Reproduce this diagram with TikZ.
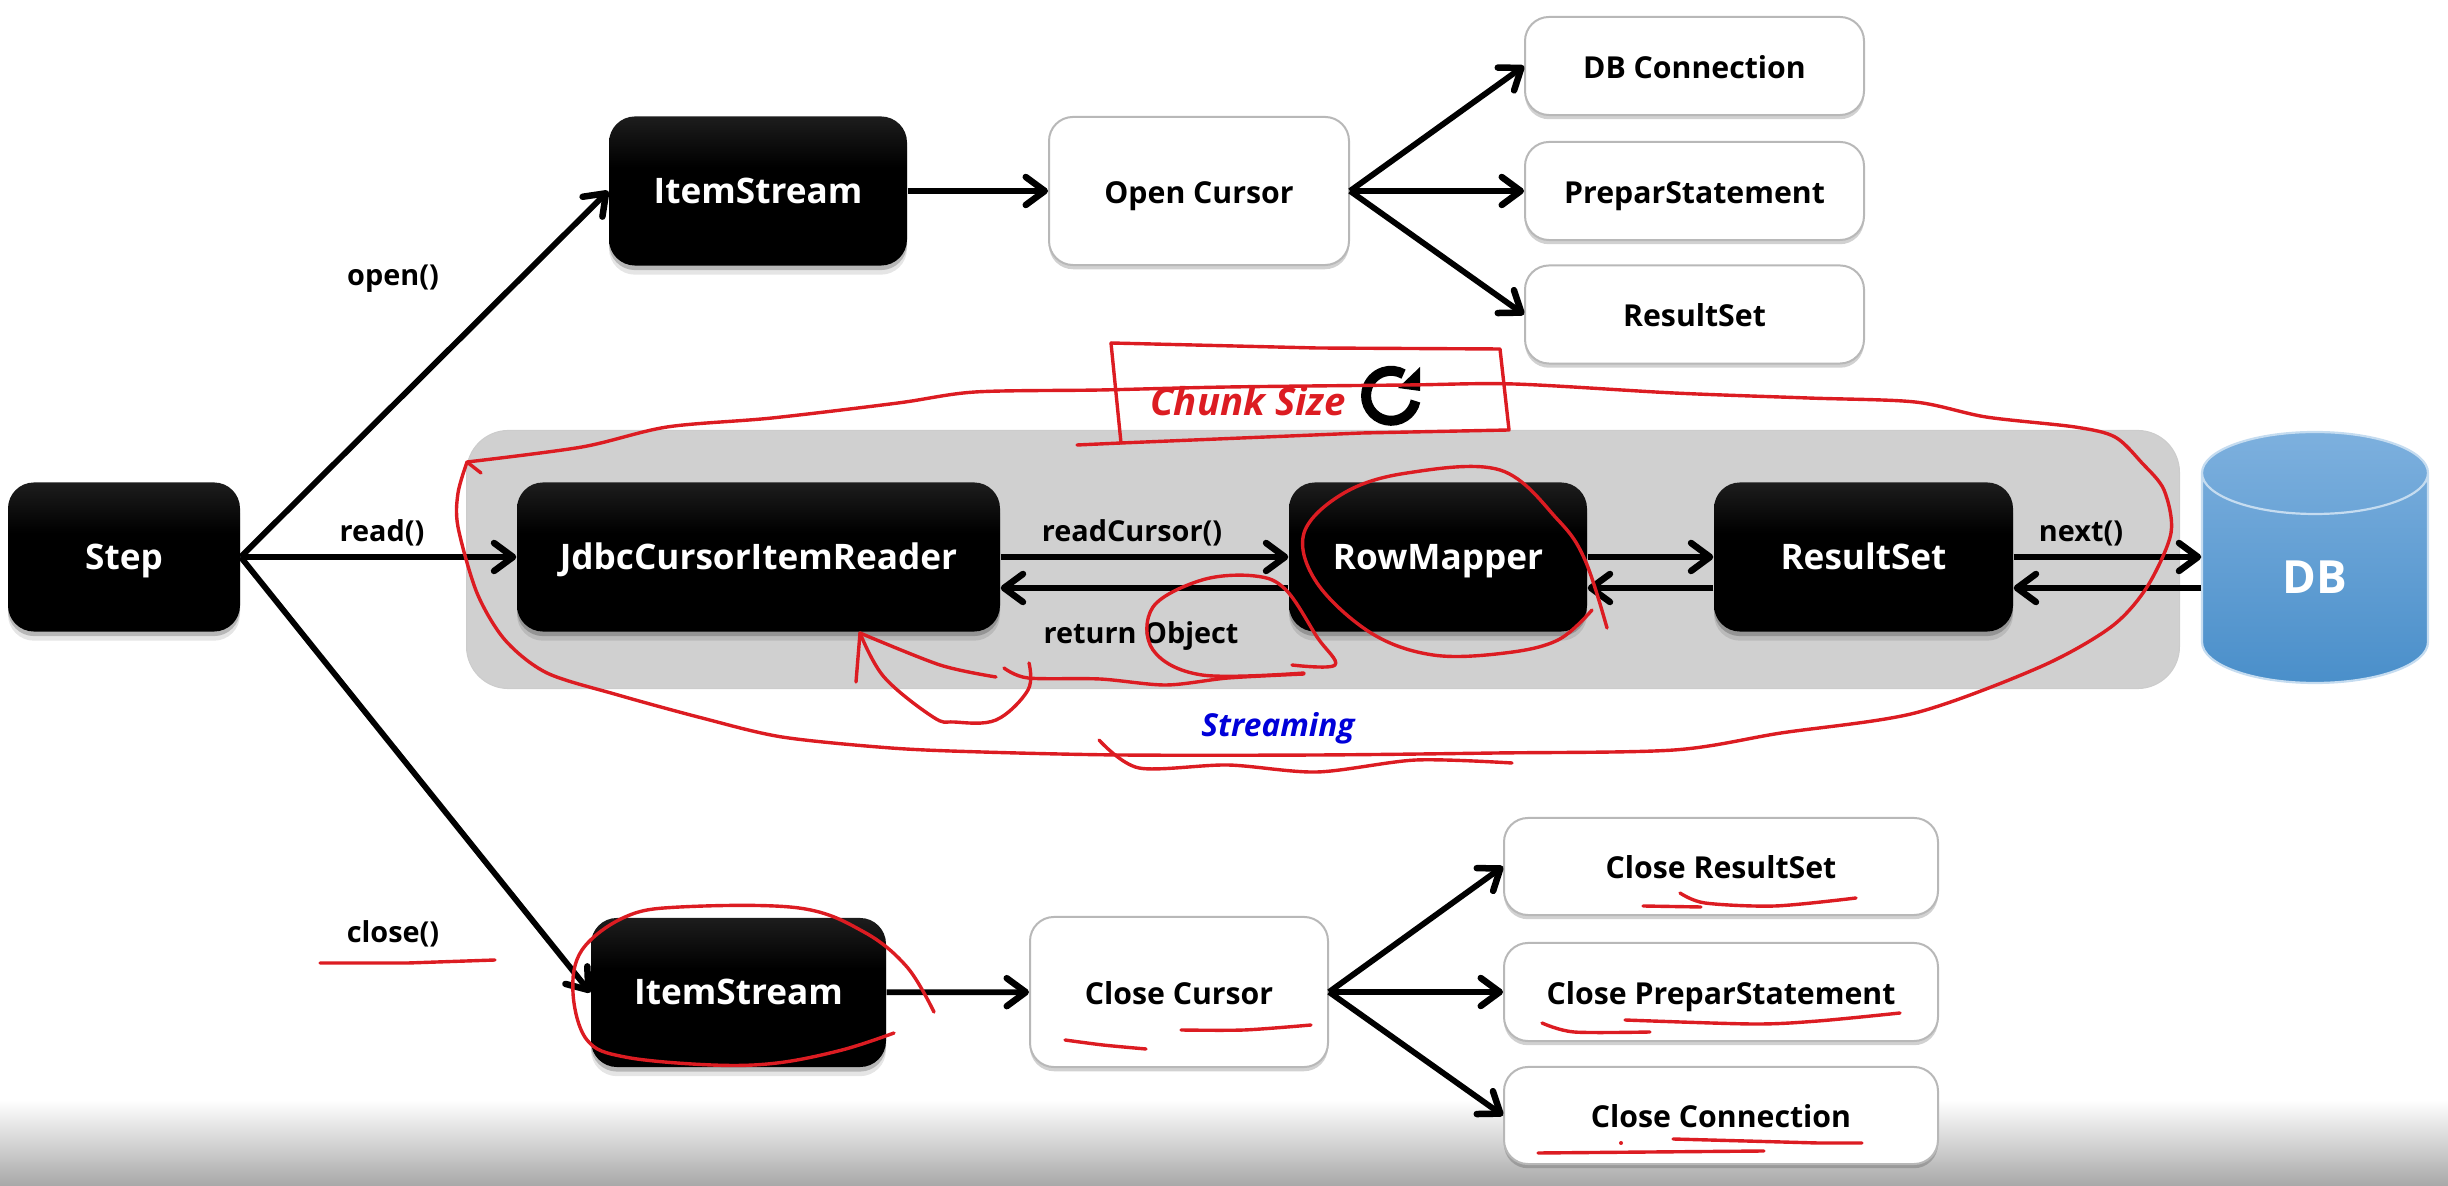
\documentclass[tikz,border=0pt]{standalone}
\usepackage{fontspec}
\setmainfont{Open Sans}
\usetikzlibrary{arrows.meta,calc,shadows}
\definecolor{panelgray}{HTML}{D0D0D0}
\definecolor{penred}{HTML}{DC1C22}
\definecolor{dbtop}{HTML}{7DB0DE}
\definecolor{dbbottom}{HTML}{4A8FCA}
\pgfdeclareverticalshading{darkfade}{100bp}{color(0bp)=(black); color(58bp)=(black); color(100bp)=(black!72)}
\tikzset{
    darkbox/.style={rectangle, rounded corners=0.26cm, minimum width=#1*0.01cm, minimum height=1.49cm,
        shading=darkfade, text=white, font=\fontsize{10}{12}\selectfont\bfseries, text height=0.71em, text depth=0pt,
        drop shadow={shadow xshift=0pt, shadow yshift=-2.6pt, opacity=0.10, fill=black},
        drop shadow={shadow xshift=0pt, shadow yshift=-1.3pt, opacity=0.20, fill=black}},
    lightbox/.style={rectangle, rounded corners=0.24cm, minimum width=#1*0.01cm, draw=black!28, line width=0.02cm, fill=white,
        text=black, font=\fontsize{8.6}{10}\selectfont\bfseries, text height=0.71em, text depth=0pt,
        drop shadow={shadow xshift=0pt, shadow yshift=-1.2pt, opacity=0.18, fill=black}},
    callname/.style={font=\fontsize{8.2}{10}\selectfont\bfseries, text=black},
    bolt/.style={-{Straight Barb[length=0.19cm, width=0.28cm, line width=0.065cm, round]}, line width=0.058cm, black},
    pen/.style={draw=penred, line width=0.034cm, line cap=round, line join=round},
}
\begin{document}
\begin{tikzpicture}[x=0.01cm, y=-0.01cm]
    \useasboundingbox (0,0) rectangle (2448,1186);

    % Grey strip at the bottom edge
    \shade[top color=white, bottom color=black!34] (0,1100) rectangle (2448,1186);

    % Streaming panel
    \node[rectangle, rounded corners=0.42cm, fill=panelgray, draw=black!20, line width=0.01cm, minimum width=17.12cm, minimum height=2.58cm] (panel) at (1323,559.5) {};

    % Left node
    \node[darkbox=232] (step) at (124,557) {Step};

    % Open row
    \node[darkbox=298] (openstream) at (758,191) {ItemStream};
    \node[lightbox=300, minimum height=1.48cm] (opencursor) at (1199,191) {Open Cursor};
    \node[lightbox=339, minimum height=0.98cm] (dbconn) at (1694.5,66) {DB Connection};
    \node[lightbox=339, minimum height=0.98cm] (prepare) at (1694.5,191) {PreparStatement};
    \node[lightbox=339, minimum height=0.98cm] (resultopen) at (1694.5,314.5) {ResultSet};

    % Read row
    \node[darkbox=483] (reader) at (758.5,557) {JdbcCursorItemReader};
    \node[darkbox=298] (mapper) at (1438,557) {RowMapper};
    \node[darkbox=299] (resultread) at (1863.5,557) {ResultSet};

    % Database
    \fill[top color=dbtop, bottom color=dbbottom] (2202,473) arc[start angle=180, end angle=360, x radius=113, y radius=41]
        -- (2428,642) arc[start angle=0, end angle=180, x radius=113, y radius=41] -- cycle;
    \draw[white!55!dbtop, line width=0.022cm] (2202,473) arc[start angle=180, end angle=0, x radius=113, y radius=41]
        (2202,473) arc[start angle=180, end angle=360, x radius=113, y radius=41] -- (2428,642)
        arc[start angle=0, end angle=180, x radius=113, y radius=41] -- cycle;
    \node[minimum width=2.26cm, minimum height=2.10cm, text=white, font=\fontsize{13}{16}\selectfont\bfseries, text height=0.33cm, text depth=0pt] (db) at (2315,577) {DB};

    % Close row
    \node[darkbox=295] (closestream) at (738.5,992.5) {ItemStream};
    \node[lightbox=298, minimum height=1.50cm] (closecursor) at (1179,992) {Close Cursor};
    \node[lightbox=434, minimum height=0.97cm] (closeresult) at (1721,866.5) {Close ResultSet};
    \node[lightbox=434, minimum height=0.98cm] (closeprepare) at (1721,992) {Close PreparStatement};
    \node[lightbox=434, minimum height=0.97cm] (closeconn) at (1721,1115.5) {Close Connection};

    % Connect step to the three rows
    \foreach \j in {openstream,reader,closestream} {
        \draw[bolt] (step.east) -- (\j.west);
    }

    % Connect cursor nodes to their boxes
    \draw[bolt] (openstream) -- (opencursor);
    \foreach \j in {dbconn,prepare,resultopen} {
        \draw[bolt] (opencursor.east) -- (\j.west);
    }
    \draw[bolt] (closestream) -- (closecursor);
    \foreach \j in {closeresult,closeprepare,closeconn} {
        \draw[bolt] (closecursor.east) -- (\j.west);
    }

    % Read row, forward and back
    \draw[bolt] (reader) -- (mapper);
    \draw[bolt] (mapper) -- (resultread);
    \draw[bolt] (resultread.east) -- (resultread.east -| db.west);
    \draw[bolt] ($(mapper.west)+(0,31)$) -- ($(reader.east)+(0,31)$);
    \draw[bolt] ($(resultread.west)+(0,31)$) -- ($(mapper.east)+(0,31)$);
    \draw[bolt] ($(resultread.east -| db.west)+(0,31)$) -- ($(resultread.east)+(0,31)$);

    % Labels
    \node[callname] (openlabel) at (393,279) {open()};
    \node[callname] (readlabel) at (382,533) {read()};
    \node[callname] (closelabel) at (393,934) {close()};
    \node[callname] (cursorlabel) at (1132,533) {readCursor()};
    \node[callname] (objectlabel) at (1141,636) {return Object};
    \node[callname] (nextlabel) at (2081,533) {next()};
    \node[font=\fontsize{10.9}{12}\selectfont\bfseries\itshape, text=penred] (chunklabel) at (1248,401) {Chunk Size};
    \node[font=\fontsize{9}{10}\selectfont\bfseries\itshape, text=blue!85!black] (streamlabel) at (1278,728) {Streaming};

    % Repeat sign
    \draw[black, line width=0.10cm] (1415.5,401) arc[start angle=12, end angle=300, radius=25];
    \fill[black] (1420,367) -- (1420,391) -- (1398,388) -- cycle;

    % Red pen marks
    \draw[pen] plot[smooth, tension=0.5] coordinates {(467,462) (582,447) (667,427) (772,418) (898,403) (975,392) (1100,390) (1228,387) (1407,385) (1514,384) (1674,393) (1808,398) (1915,402) (1986,417) (2075,427) (2115,437) (2142,463) (2164,490) (2171,533) (2147,587) (2111,627) (2040,667) (1915,713) (1781,733) (1674,750) (1496,753) (1317,755) (1121,755) (982,752) (891,748) (782,737) (702,718) (618,695) (547,673) (505,640) (477,593) (458,527) (458,493) (467,462)};
    \draw[pen] (467,462) -- (481,473);
    \draw[pen] (1111,343) -- (1317,348) -- (1500,349) -- (1509,430) -- (1362,433) -- (1121,443) -- (1077,445);
    \draw[pen] (1111,343) -- (1121,443);
    \draw[pen] plot[smooth, tension=0.6] coordinates {(1607,628) (1585,560) (1558,520) (1500,470) (1407,473) (1344,493) (1304,533) (1317,583) (1371,633) (1433,655) (1505,653) (1558,640) (1592,610)};
    \draw[pen] plot[smooth, tension=0.6] coordinates {(1304,673) (1202,675) (1153,650) (1153,607) (1202,580) (1255,576) (1286,590) (1317,637) (1335,665) (1292,665)};
    \draw[pen] plot[smooth, tension=0.5] coordinates {(1004,668) (1028,678) (1100,679) (1166,685) (1228,678) (1304,674)};
    \draw[pen] plot[smooth, tension=0.5] coordinates {(996,677) (940,665) (860,633)};
    \draw[pen] plot[smooth, tension=0.6] coordinates {(860,633) (884,677) (933,717) (954,722) (996,720) (1028,690) (1029,663)};
    \draw[pen] (860,633) -- (856,682);
    \draw[pen] plot[smooth, tension=0.5] coordinates {(1099,740) (1139,768) (1228,765) (1317,772) (1416,760) (1512,763)};
    \draw[pen] (320,963) -- (408,963) -- (495,960);
    \draw[pen] plot[smooth, tension=0.6] coordinates {(934,1012) (907,967) (864,932) (799,908) (680,907) (625,917) (582,950) (573,993) (587,1040) (625,1057) (712,1065) (777,1063) (842,1050) (894,1033)};
    \draw[pen] plot[smooth] coordinates {(1065,1040) (1103,1045) (1146,1049)};
    \draw[pen] plot[smooth] coordinates {(1181,1030) (1244,1030) (1311,1025)};
    \draw[pen] (1643,906) -- (1701,907);
    \draw[pen] plot[smooth] coordinates {(1680,893) (1705,903) (1775,906) (1856,898)};
    \draw[pen] plot[smooth] coordinates {(1542,1023) (1574,1032) (1650,1032)};
    \draw[pen] plot[smooth] coordinates {(1625,1020) (1753,1024) (1818,1021) (1900,1013)};
    \draw[pen] (1538,1153) -- (1764,1151);
    \draw[pen] (1673,1139) -- (1818,1143) -- (1862,1143);
    \fill[penred] (1621,1143) circle (2);
\end{tikzpicture}
\end{document}
